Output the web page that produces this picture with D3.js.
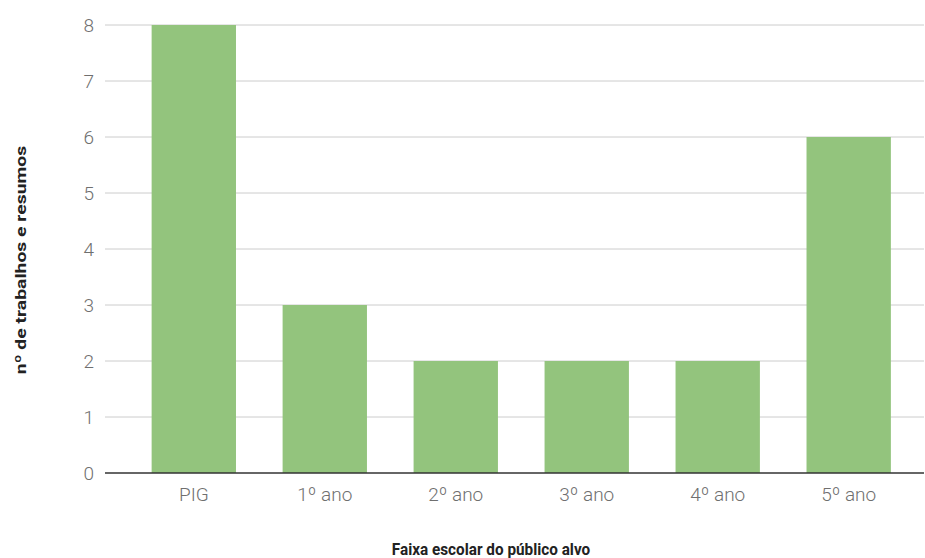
<!DOCTYPE html>
<html>
<head>
<meta charset="utf-8">
<script src="https://cdn.jsdelivr.net/npm/d3@7"></script>
<style>
  html, body { margin: 0; padding: 0; background: #fff; }
  svg { display: block; font-family: Roboto, "Noto Sans", sans-serif; }
</style>
</head>
<body>
<svg id="chart" width="925" height="558"></svg>
<script>
// Número de trabalhos e resumos por faixa escolar
const categories = ["PIG", "1º ano", "2º ano", "3º ano", "4º ano", "5º ano"];
const values = [8, 3, 2, 2, 2, 6];
const yTicks = [0, 1, 2, 3, 4, 5, 6, 7, 8];
const xTitle = "Faixa escolar do público alvo";
const yTitle = "nº de trabalhos e resumos";

const svg = d3.select("#chart");
const plot = { left: 105, right: 924, top: 25, bottom: 473 };

const x = d3.scaleBand()
  .domain(categories)
  .range([105, 937.5])
  .paddingInner(0.356)
  .paddingOuter(0.356);

const y = d3.scaleLinear()
  .domain([0, 8])
  .range([plot.bottom, plot.top]);

// horizontal gridlines
svg.append("g")
  .selectAll("line")
  .data(yTicks.filter(d => d > 0))
  .join("line")
  .attr("x1", plot.left)
  .attr("x2", plot.right)
  .attr("y1", d => y(d))
  .attr("y2", d => y(d))
  .attr("stroke", "#cccccc")
  .attr("stroke-width", 1);

// y tick labels
const yAxis = d3.axisLeft(y).tickValues(yTicks).tickSize(0).tickPadding(11);
svg.append("g")
  .attr("transform", `translate(${plot.left},0)`)
  .call(yAxis)
  .call(g => g.select(".domain").remove())
  .call(g => g.selectAll("text")
    .attr("fill", "#6f6f6f")
    .attr("font-size", 19)
    .attr("font-weight", 300)
    .attr("font-family", "Roboto, sans-serif"));

// bars
svg.append("g")
  .selectAll("rect")
  .data(categories.map((c, i) => ({ c, v: values[i] })))
  .join("rect")
  .attr("x", d => x(d.c))
  .attr("width", x.bandwidth())
  .attr("y", d => y(d.v))
  .attr("height", d => y(0) - y(d.v))
  .attr("fill", "#93c47d");

// baseline
svg.append("line")
  .attr("x1", plot.left)
  .attr("x2", plot.right)
  .attr("y1", y(0))
  .attr("y2", y(0))
  .attr("stroke", "#333")
  .attr("stroke-width", 1.5);

// x tick labels
const xAxis = d3.axisBottom(x).tickSize(0).tickPadding(15);
svg.append("g")
  .attr("transform", `translate(0,${plot.bottom})`)
  .call(xAxis)
  .call(g => g.select(".domain").remove())
  .call(g => g.selectAll("text")
    .attr("fill", "#6f6f6f")
    .attr("font-size", 19)
    .attr("font-weight", 300)
    .attr("font-family", "Roboto, sans-serif"));

// axis titles
svg.append("text")
  .attr("transform", "translate(491,555) scale(1,1.1)")
  .attr("text-anchor", "middle")
  .attr("font-size", 15.3)
  .attr("font-weight", "bold")
  .attr("fill", "#222")
  .text(xTitle);

svg.append("text")
  .attr("transform", "translate(26,260) rotate(-90) scale(1.25,1)")
  .attr("text-anchor", "middle")
  .attr("font-size", 15.5)
  .attr("font-weight", "bold")
  .attr("fill", "#222")
  .text(yTitle);
</script>
</body>
</html>
